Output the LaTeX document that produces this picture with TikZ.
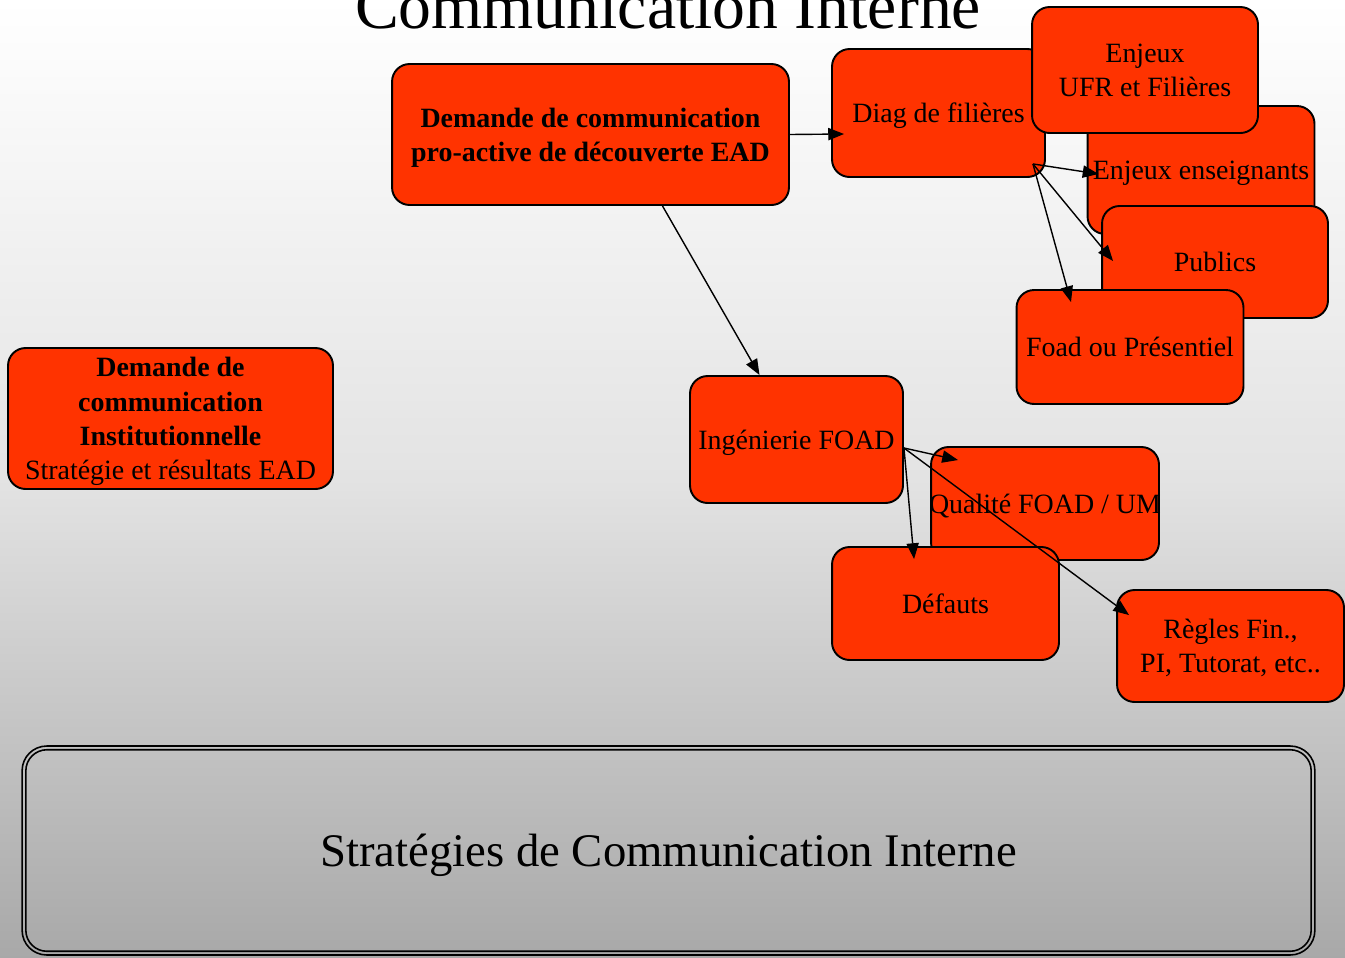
\documentclass[tikz,border=0pt]{standalone}
\usepackage{fontspec}
\setmainfont{Liberation Serif}
\usetikzlibrary{positioning,calc,arrows.meta}
\definecolor{rougeorange}{HTML}{FF3300}

\begin{document}
\begin{tikzpicture}
    [
    x=0.02cm, y=-0.02cm,
    boite/.style={rectangle,rounded corners=10pt,draw,line width=1.1pt,fill=rougeorange,inner sep=0pt,text depth=0pt,align=center,font=\fontsize{15.9}{19.5}\selectfont},
    fleche/.style={-{Triangle[length=9pt,width=7pt]},line width=0.8pt},
    ]
    \shade [top color=white,bottom color=black!34,middle color=black!11] (0,0) rectangle (1345,957);
    \useasboundingbox (0,0) rectangle (1345,957);

    \node (titre) at (668,28) [anchor=base,font=\fontsize{37.4}{45}\selectfont] {Communication Interne};

    \node (proact) at (590.5,134.5) [boite,minimum width=7.94cm,minimum height=2.82cm,font=\fontsize{15.9}{19.5}\selectfont\bfseries] {Demande de communication\\pro-active de découverte EAD};
    \node (diag) at (938.5,113) [boite,minimum width=4.26cm,minimum height=2.56cm] {Diag de filières};
    \node (enjens) at (1201,170) [boite,minimum width=4.54cm,minimum height=2.56cm] {Enjeux enseignants};
    \node (enjufr) at (1145,70) [boite,minimum width=4.52cm,minimum height=2.52cm] {Enjeux\\UFR et Filières};
    \node (publics) at (1215,262) [boite,minimum width=4.52cm,minimum height=2.24cm] {Publics};
    \node (foad) at (1130,347) [boite,minimum width=4.54cm,minimum height=2.28cm] {Foad ou Présentiel};

    \node (instit) at (170.5,418.5) [boite,minimum width=6.5cm,minimum height=2.82cm] {{\bfseries Demande de}\\{\bfseries communication}\\{\bfseries Institutionnelle}\\Stratégie et résultats EAD};

    \node (ingen) at (796.5,439.5) [boite,minimum width=4.26cm,minimum height=2.54cm] {Ingénierie FOAD};
    \node (qualite) at (1045,503.5) [boite,minimum width=4.56cm,minimum height=2.26cm] {\makebox[4.4cm]{Qualité FOAD / UM}};
    \node (defauts) at (945.5,603.5) [boite,minimum width=4.54cm,minimum height=2.26cm] {Défauts};
    \node (regles) at (1230.5,646) [boite,minimum width=4.54cm,minimum height=2.24cm] {Règles Fin.,\\PI, Tutorat, etc..};

    \node (strat) at (668.5,850.5) [draw,line width=0.9pt,rounded corners=14pt,text depth=0pt,minimum width=25.86cm,minimum height=4.18cm,font=\fontsize{26.6}{32}\selectfont] {Stratégies de Communication Interne};
    \draw [line width=0.9pt,rounded corners=12pt] ($(strat.north west)+(4.5,4.5)$) rectangle ($(strat.south east)+(-4.5,-4.5)$);

    % fleches
    \draw [fleche] (proact.east) -- ($(diag.west)+(13,21)$);
    \draw [fleche] ($(proact.south)+(72,0)$) -- ($(ingen.north)+(-37,0)$);

    \coordinate (dsortie) at ($(diag.south east)+(-13,-14)$);
    \draw [fleche] (dsortie) -- ($(enjens.west)+(12,4)$);
    \draw [fleche] (dsortie) -- ($(publics.west)+(12,-1)$);
    \draw [fleche] (dsortie) -- ($(foad.north)+(-59,13)$);

    \coordinate (isortie) at ($(ingen.east)+(0,8.5)$);
    \draw [fleche] (isortie) -- ($(qualite.north west)+(28,14)$);
    \draw [fleche] (isortie) -- ($(defauts.north west)+(83,13)$);
    \draw [fleche] (isortie) -- ($(regles.north west)+(13,26)$);
\end{tikzpicture}
\end{document}
